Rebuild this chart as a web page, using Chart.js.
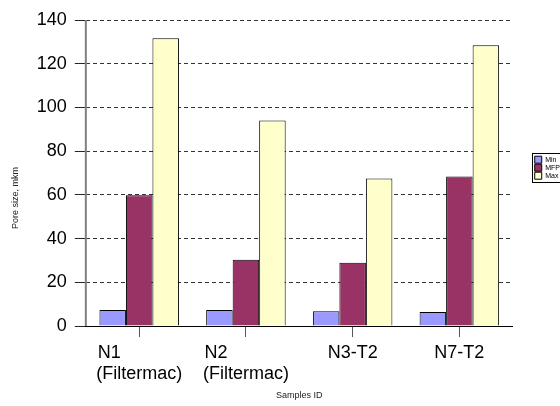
<!DOCTYPE html>
<html>
<head>
<meta charset="utf-8">
<script src="https://cdn.jsdelivr.net/npm/chart.js@4/dist/chart.umd.min.js"></script>
<style>
    html, body { margin: 0; padding: 0; background: #fff; }
    #wrap { width: 560px; height: 406px; }
</style>
</head>
<body>
<div id="wrap"><canvas id="main-chart"></canvas></div>
<script>
// samples on the x axis (first line padded so both lines start at the same x)
const sampleLabels = [
    ["N1            ", "(Filtermac)"],
    ["N2            ", "(Filtermac)"],
    "N3-T2",
    "N7-T2",
];
const minData = [7.3, 7.3, 6.7, 6.4];
const mfpData = [59.8, 30.3, 28.9, 68.4];
const maxData = [131.6, 94, 67.5, 128.5];
const yTicks = [0, 20, 40, 60, 80, 100, 120, 140];

// solid grey y axis line + thin frame round the legend
const framePlugin = {
    id: "frame",
    afterDraw(chart) {
        const ctx = chart.ctx;
        const area = chart.chartArea;
        ctx.save();
        ctx.strokeStyle = "#808080";
        ctx.lineWidth = 2;
        ctx.beginPath();
        ctx.moveTo(area.left, area.top);
        ctx.lineTo(area.left, area.bottom);
        ctx.stroke();

        const boxes = chart.legend && chart.legend.legendHitBoxes;
        if (boxes && boxes.length) {
            const left = Math.min(...boxes.map((b) => b.left)) - 3;
            const top = Math.min(...boxes.map((b) => b.top)) - 3;
            const right = Math.max(...boxes.map((b) => b.left + b.width)) + 3;
            const bottom = Math.max(...boxes.map((b) => b.top + b.height)) + 3;
            ctx.strokeStyle = "#000000";
            ctx.lineWidth = 1;
            ctx.strokeRect(Math.round(left) + 0.5, Math.round(top) + 0.5, right - left, bottom - top);
        }
        ctx.restore();
    },
};

let chartCanvas = document.getElementById("main-chart");

let poreChart = new Chart(chartCanvas, {
    type: "bar",
    data: {
        labels: sampleLabels,
        datasets: [
            {
                label: "Min",
                data: minData,
                backgroundColor: "#9999FF",
                borderColor: "#000000",
                borderWidth: 1,
            },
            {
                label: "MFP",
                data: mfpData,
                backgroundColor: "#993366",
                borderColor: "#000000",
                borderWidth: 1,
            },
            {
                label: "Max",
                data: maxData,
                backgroundColor: "#FFFFCC",
                borderColor: "#000000",
                borderWidth: 1,
            },
        ],
    },
    plugins: [framePlugin],
    options: {
        responsive: true,
        maintainAspectRatio: false,
        animation: false,
        categoryPercentage: 0.745,
        barPercentage: 1,
        layout: {
            padding: { top: 20, left: 10, right: -10, bottom: 5 },
        },
        scales: {
            x: {
                grid: {
                    display: true,
                    drawOnChartArea: false,
                    offset: false,
                    tickLength: 11,
                    tickColor: "#555555",
                },
                border: { color: "#000000", width: 1 },
                ticks: {
                    color: "#000000",
                    maxRotation: 0,
                    autoSkip: false,
                    padding: 5,
                    font: { family: "Liberation Sans", size: 18 },
                },
                title: {
                    display: true,
                    text: "Samples ID",
                    color: "#222222",
                    font: { family: "Liberation Sans", size: 9 },
                    padding: { top: 0, bottom: 0 },
                },
            },
            y: {
                min: 0,
                max: 140,
                afterBuildTicks: (axis) => {
                    axis.ticks = yTicks.map((v) => ({ value: v }));
                },
                grid: {
                    color: "#333333",
                    lineWidth: 1,
                    tickBorderDash: [1, 0],
                    tickLength: 11,
                    tickColor: "#000000",
                },
                border: { display: false, dash: [4, 3] },
                ticks: {
                    color: "#000000",
                    padding: 8,
                    font: { family: "Liberation Sans", size: 18 },
                },
                title: {
                    display: true,
                    text: "Pore size, mkm                    ",
                    color: "#222222",
                    font: { family: "Liberation Sans", size: 9 },
                    padding: { top: 0, bottom: 8 },
                },
            },
            // empty spacer between the plot and the legend
            gap: {
                position: "right",
                display: true,
                grid: { display: false },
                border: { display: false },
                ticks: { display: false },
                afterFit: (axis) => {
                    axis.width = 21;
                },
            },
        },
        plugins: {
            legend: {
                display: true,
                position: "right",
                align: "start",
                title: {
                    display: true,
                    text: " ",
                    font: { size: 1 },
                    padding: { top: 134, bottom: 0 },
                },
                labels: {
                    color: "#000000",
                    boxWidth: 7,
                    boxHeight: 7,
                    padding: 1,
                    font: { family: "Liberation Sans", size: 7 },
                },
            },
            tooltip: { enabled: false },
        },
    },
});
</script>
</body>
</html>
